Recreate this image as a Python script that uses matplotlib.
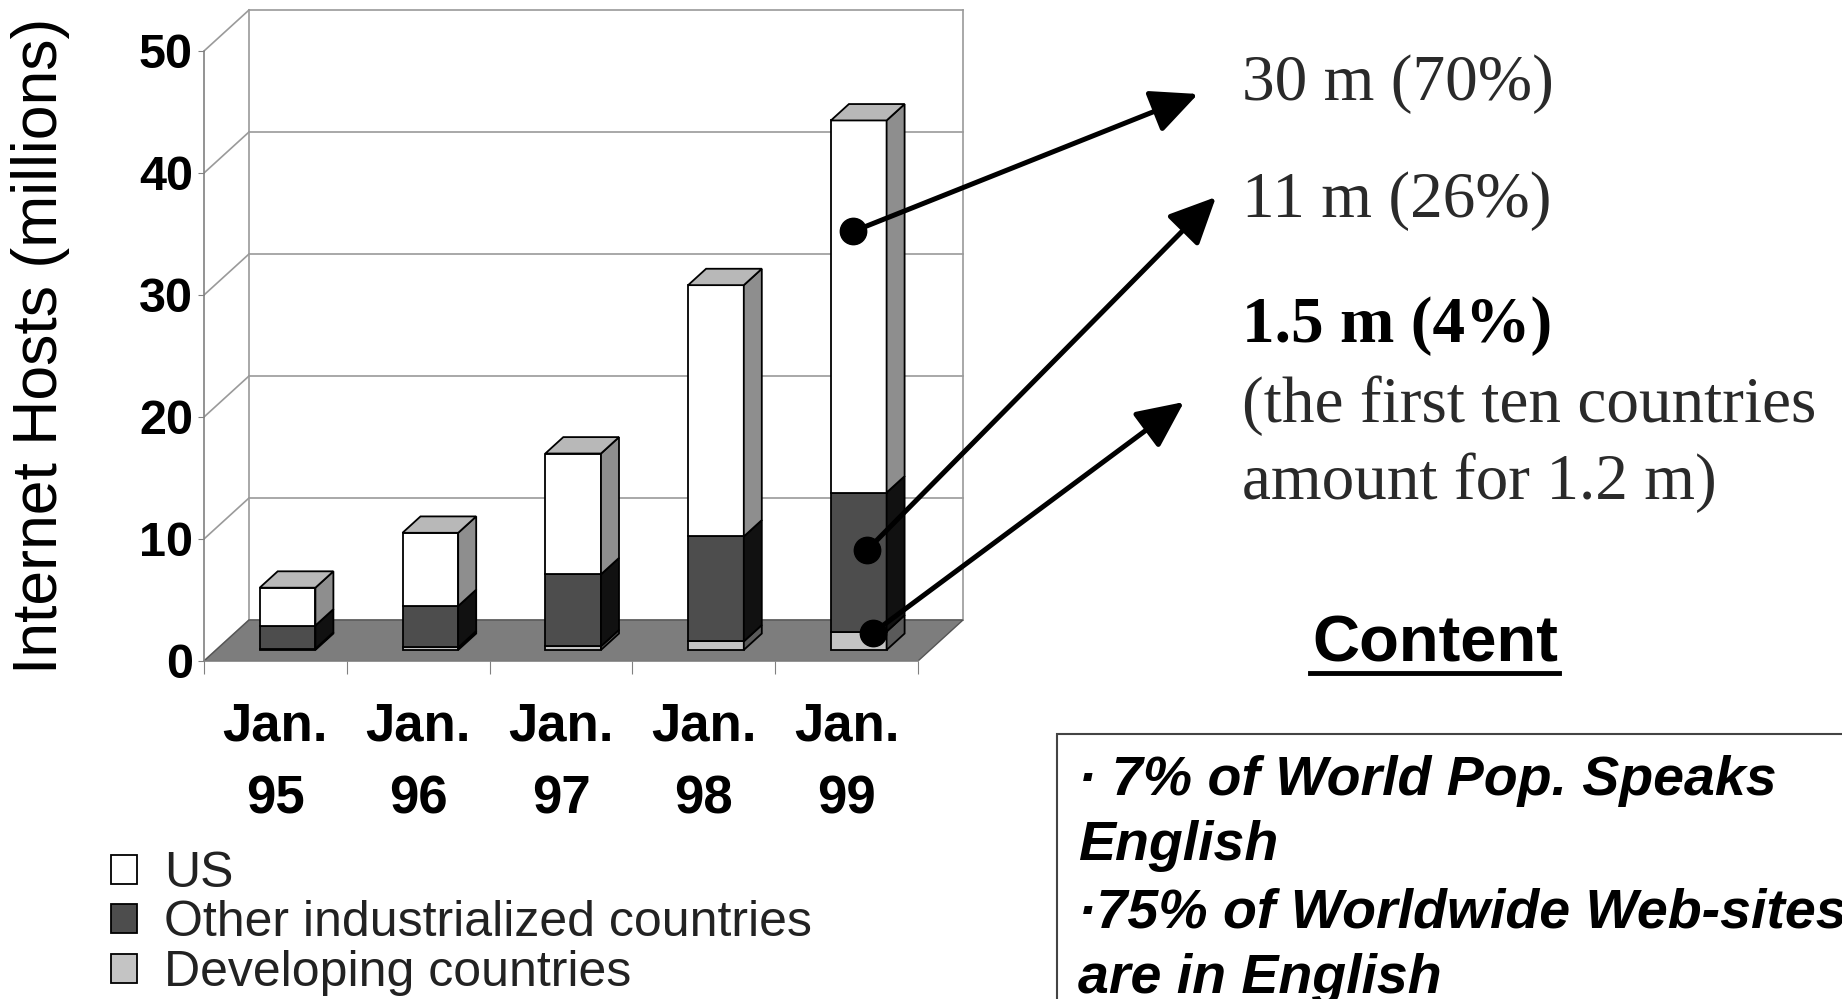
import matplotlib

matplotlib.use("Agg")
import matplotlib.pyplot as plt
from matplotlib.patches import Polygon, Rectangle, Patch
from matplotlib.lines import Line2D

plt.rcParams["font.family"] = ["Liberation Sans", "DejaVu Sans"]

# --- data (millions of hosts) ---
years = ["95", "96", "97", "98", "99"]
developing = [0.1, 0.2, 0.3, 0.7, 1.5]
other = [1.9, 3.4, 5.9, 8.6, 11.4]
us = [3.1, 6.0, 9.9, 20.6, 30.5]
y_ticks = [0, 10, 20, 30, 40, 50]

series = [("Developing countries", developing, "#c4c4c4", "#5a5a5a"),
          ("Other industrialized countries", other, "#4d4d4d", "#111111"),
          ("US", us, "#ffffff", "#8e8e8e")]
top_color = "#b8b8b8"

W, H = 1842, 999
fig = plt.figure(figsize=(W / 100, H / 100), dpi=100)

# axes: data x in category slots, y in millions; pixel box chosen to match layout
x0, y0 = 204, 661
px_x, px_y = 142.8, 12.2
xmax, ymax = 5.45, 53.8
ax = fig.add_axes([x0 / W, 1 - y0 / H, xmax * px_x / W, ymax * px_y / H])
ax.set_xlim(0, xmax)
ax.set_ylim(0, ymax)
ax.patch.set_visible(False)

# 3-D depth of the chart box (data units)
Dx, Dy = 45 / px_x, 41 / px_y
f0, fd = 0.27, 0.40          # bar front position / bar depth as fraction of box depth
n = len(years)
grid_c = "#9a9a9a"

# back wall + left wall grid
for v in y_ticks:
    ax.plot([Dx, n + Dx], [v + Dy, v + Dy], color=grid_c, lw=1.2, zorder=1)
    ax.plot([0, Dx], [v, v + Dy], color=grid_c, lw=1.2, zorder=1)
ax.plot([Dx, Dx], [Dy, y_ticks[-1] + Dy], color=grid_c, lw=1.2, zorder=1)
ax.plot([n + Dx, n + Dx], [Dy, y_ticks[-1] + Dy], color=grid_c, lw=1.2, zorder=1)

# floor
ax.add_patch(Polygon([(0, 0), (n, 0), (n + Dx, Dy), (Dx, Dy)], closed=True,
                     facecolor="#7d7d7d", edgecolor="#555555", lw=1, zorder=2))

# bars
bw = 0.39
centers = [i + 0.5 + f0 * Dx for i in range(n)]
base = f0 * Dy
ddx, ddy = fd * Dx, fd * Dy
bottoms = [base] * n
for label, vals, front, side in series:
    ax.bar(centers, vals, width=bw, bottom=bottoms, color=front,
           edgecolor="black", lw=1.3, zorder=3)
    for c, b, v in zip(centers, bottoms, vals):
        xr = c + bw / 2
        ax.add_patch(Polygon([(xr, b), (xr + ddx, b + ddy), (xr + ddx, b + v + ddy), (xr, b + v)],
                             closed=True, facecolor=side, edgecolor="black", lw=1.3, zorder=3))
    bottoms = [b + v for b, v in zip(bottoms, vals)]
for c, t in zip(centers, bottoms):
    xl, xr = c - bw / 2, c + bw / 2
    ax.add_patch(Polygon([(xl, t), (xr, t), (xr + ddx, t + ddy), (xl + ddx, t + ddy)],
                         closed=True, facecolor=top_color, edgecolor="black", lw=1.3, zorder=3))

# front axes
for s in ["top", "right"]:
    ax.spines[s].set_visible(False)
for s in ["left", "bottom"]:
    ax.spines[s].set_color("#808080")
    ax.spines[s].set_linewidth(1.2)
ax.spines["left"].set_bounds(0, y_ticks[-1])
ax.spines["bottom"].set_bounds(0, n)
ax.set_yticks(y_ticks)
ax.set_yticklabels([str(v) for v in y_ticks], fontsize=35, fontweight="bold")
ax.tick_params(axis="y", length=4, color="#808080", pad=4)
ax.set_xticks(range(n + 1))
ax.set_xticklabels([])
ax.set_xticks([i + 0.5 for i in range(n)], minor=True)
ax.set_xticklabels([f"Jan.\n{y}" for y in years], minor=True, fontsize=38,
                   fontweight="bold", linespacing=1.6)
ax.tick_params(axis="x", which="major", length=9, color="#808080")
ax.tick_params(axis="x", which="minor", length=0, pad=29)

fig.text(41 / W, 1 - 346 / H, "Internet Hosts (millions)", rotation=90,
         ha="center", va="center", fontsize=45)

# legend
handles = [Patch(facecolor=front, edgecolor="black", lw=1.3) for _, _, front, _ in reversed(series)]
labels = [lab for lab, _, _, _ in reversed(series)]
fig.legend(handles, labels, loc="upper left", bbox_to_anchor=(86 / W, 1 - 826 / H),
           frameon=False, fontsize=36, handlelength=0.52, handleheight=0.52,
           handletextpad=0.55, labelspacing=0.07, borderpad=0, labelcolor="#222222")

# arrows from the Jan. 99 bar to the shares on the right
last = n - 1
dots = [(centers[last] - 0.04, base + 34.3, (1198, H - 94)),
        (centers[last] + 0.06, base + 8.2, (1216, H - 197)),
        (centers[last] + 0.10, base + 1.4, (1184, H - 402))]
for dx_, dy_, tip in dots:
    ax.annotate("", xy=tip, xycoords="figure pixels", xytext=(dx_, dy_), textcoords="data",
                arrowprops=dict(arrowstyle="-|>,head_length=1.6,head_width=0.75",
                                mutation_scale=18, lw=3.6, color="black",
                                shrinkA=0, shrinkB=0), zorder=6, annotation_clip=False)
    ax.plot(dx_, dy_, "o", ms=19, color="black", zorder=7, clip_on=False)

serif = ["Liberation Serif", "DejaVu Serif"]
fig.text(1242 / W, 1 - 84 / H, "30 m (70%)", family=serif, fontsize=47, va="center", color="#2a2a2a")
fig.text(1242 / W, 1 - 201 / H, "11 m (26%)", family=serif, fontsize=47, va="center", color="#2a2a2a")
fig.text(1242 / W, 1 - 326 / H, "1.5 m (4%)", family=serif, fontsize=47, va="center",
         fontweight="bold", color="black")
fig.text(1242 / W, 1 - 406 / H, "(the first ten countries", family=serif, fontsize=47,
         va="center", color="#2a2a2a")
fig.text(1242 / W, 1 - 483 / H, "amount for 1.2 m)", family=serif, fontsize=47,
         va="center", color="#2a2a2a")

# Content box
fig.text(1435 / W, 1 - 644 / H, "Content", fontsize=47, fontweight="bold",
         ha="center", va="center")
fig.add_artist(Line2D([1310 / W, 1559 / W], [1 - 673 / H, 1 - 673 / H], color="black", lw=3.5))
fig.add_artist(Rectangle((1057 / W, -0.05), 0.5, 1 - 734 / H + 0.05,
                         transform=fig.transFigure, facecolor="none",
                         edgecolor="#444444", lw=1.5))
box_lines = ["· 7% of World Pop. Speaks", "English",
             "·75% of Worldwide Web-sites", "are in English"]
for txt, py in zip(box_lines, [781, 846, 913, 979]):
    fig.text(1078 / W, 1 - py / H, txt, fontsize=40, fontweight="bold",
             style="italic", va="center")

fig.savefig("out.png", dpi=100)
